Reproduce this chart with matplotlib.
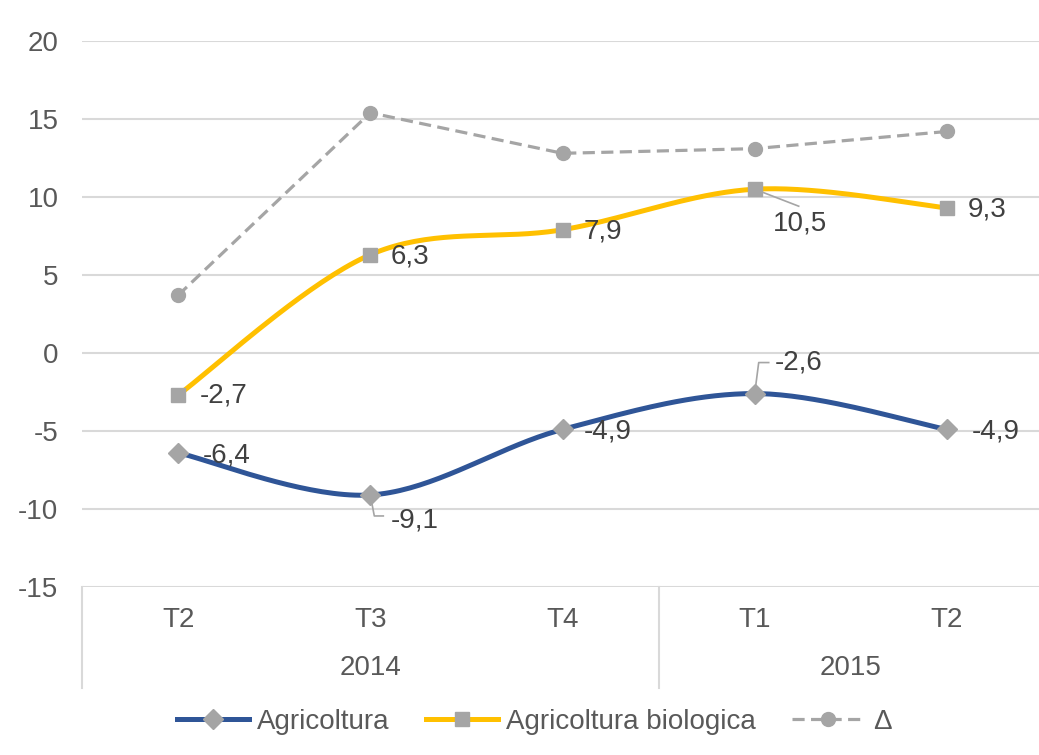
import numpy as np
import matplotlib
matplotlib.use("Agg")
import matplotlib.pyplot as plt
from matplotlib.lines import Line2D
import matplotlib.transforms as mtransforms

plt.rcParams['font.family'] = ['Liberation Sans', 'DejaVu Sans']

quarters = ["T2", "T3", "T4", "T1", "T2"]
years = ["2014", "2015"]
year_span = [(0, 2), (3, 4)]
agri = [-6.4, -9.1, -4.9, -2.6, -4.9]
bio = [-2.7, 6.3, 7.9, 10.5, 9.3]
delta = [3.7, 15.4, 12.8, 13.1, 14.2]

agri_labels = ["-6,4", "-9,1", "-4,9", "-2,6", "-4,9"]
bio_labels = ["-2,7", "6,3", "7,9", "10,5", "9,3"]

BLUE = "#2F5597"
YELLOW = "#FFC000"
GRAY = "#A5A5A5"
TXT = "#595959"
LTXT = "#404040"
GRID = "#D9D9D9"
FS = 20
DASH = (0, (3.8, 2))


def smooth(xs, ys, n=40):
    xs = np.asarray(xs, float)
    ys = np.asarray(ys, float)
    P = np.column_stack([xs, ys])
    Pe = np.vstack([P[0], P, P[-1]])
    out = []
    for i in range(len(P) - 1):
        p0, p1, p2, p3 = Pe[i], Pe[i + 1], Pe[i + 2], Pe[i + 3]
        c1 = p1 + (p2 - p0) / 6
        c2 = p2 - (p3 - p1) / 6
        t = np.linspace(0, 1, n)[:, None]
        seg = ((1 - t) ** 3) * p1 + 3 * ((1 - t) ** 2) * t * c1 + 3 * (1 - t) * t ** 2 * c2 + t ** 3 * p2
        out.append(seg if i == 0 else seg[1:])
    seg = np.vstack(out)
    return seg[:, 0], seg[:, 1]


W, H = 1039, 755
fig = plt.figure(figsize=(W / 100, H / 100), dpi=100)
ax = fig.add_axes([82 / W, (H - 587) / H, (1043 - 82) / W, (587 - 41) / H])
x = np.arange(len(quarters))

ax.set_xlim(-0.5, 4.5)
ax.set_ylim(-15, 20)
ax.set_yticks(np.arange(-15, 21, 5))
ax.set_yticklabels([str(v) for v in range(-15, 21, 5)], fontsize=FS, color=TXT)
ax.tick_params(axis='y', length=0, pad=17)
ax.set_xticks([])
for s in ax.spines.values():
    s.set_visible(False)
ax.grid(axis='y', color=GRID, linewidth=1.5)
ax.set_axisbelow(True)

# delta
ax.plot(x, delta, color=GRAY, linewidth=2.3, linestyle=DASH, marker='o',
        markersize=10, markerfacecolor=GRAY, markeredgecolor=GRAY, zorder=3)
# bio
sx, sy = smooth(x, bio)
ax.plot(sx, sy, color=YELLOW, linewidth=3.6, zorder=3, solid_capstyle='round')
ax.plot(x, bio, linestyle='none', marker='s', markersize=10, color=GRAY, zorder=4)
# agri
sx, sy = smooth(x, agri)
ax.plot(sx, sy, color=BLUE, linewidth=3.6, zorder=3, solid_capstyle='round')
ax.plot(x, agri, linestyle='none', marker='D', markersize=10, color=GRAY, zorder=4)


def lab(xi, yi, text, dx, dy, ha='left'):
    ax.annotate(text, (xi, yi), xytext=(dx, dy), textcoords='offset pixels',
                fontsize=FS, color=LTXT, ha=ha, va='center', zorder=5)


bio_off = [(22, 0), (20, -2), (21, -2), (18, -34), (21, -2)]
agri_off = [(25, -3), (20, -26), (21, -2), (20, 31), (25, -2)]
for i in range(5):
    lab(x[i], bio[i], bio_labels[i], *bio_off[i])
    lab(x[i], agri[i], agri_labels[i], *agri_off[i])


def leader(xi, yi, pts):
    base = ax.transData.transform((xi, yi))
    arr = np.array([[base[0] + px, base[1] + py] for px, py in pts])
    data = ax.transData.inverted().transform(arr)
    ax.plot(data[:, 0], data[:, 1], color=GRAY, linewidth=1.2, zorder=2)


leader(x[1], agri[1], [(0, 0), (4, -21), (13, -21)])
leader(x[3], bio[3], [(0, 0), (44, -17)])
leader(x[3], agri[3], [(0, 0), (4, 31), (14, 31)])

# category axis
trans = mtransforms.blended_transform_factory(ax.transData, fig.transFigure)
for i, q in enumerate(quarters):
    fig.text(ax.transData.transform((x[i], 0))[0] / W, (H - 620) / H, q,
             fontsize=FS, color=TXT, ha='center', va='center')
for yr, (a, b) in zip(years, year_span):
    xc = (a + b) / 2
    fig.text(ax.transData.transform((xc, 0))[0] / W, (H - 668) / H, yr,
             fontsize=FS, color=TXT, ha='center', va='center')
for xb in [-0.5, 2.5, 4.5]:
    ax.plot([xb, xb], [(H - 587) / H, (H - 688) / H], color=GRID, linewidth=1.5,
            transform=trans, clip_on=False)

handles = [
    Line2D([], [], color=BLUE, linewidth=3.6, marker='D', markersize=10,
           markerfacecolor=GRAY, markeredgecolor=GRAY),
    Line2D([], [], color=YELLOW, linewidth=3.6, marker='s', markersize=10,
           markerfacecolor=GRAY, markeredgecolor=GRAY),
    Line2D([], [], color=GRAY, linewidth=2.3, linestyle=DASH, marker='o',
           markersize=10, markerfacecolor=GRAY, markeredgecolor=GRAY),
]
fig.legend(handles, ["Agricoltura", "Agricoltura biologica", "\u0394"], loc='center',
           bbox_to_anchor=(0.514, (H - 722) / H), ncol=3, frameon=False, fontsize=FS,
           labelcolor=TXT, handlelength=2.6, handletextpad=0.3, columnspacing=1.3)

fig.savefig("out.png", dpi=100)
